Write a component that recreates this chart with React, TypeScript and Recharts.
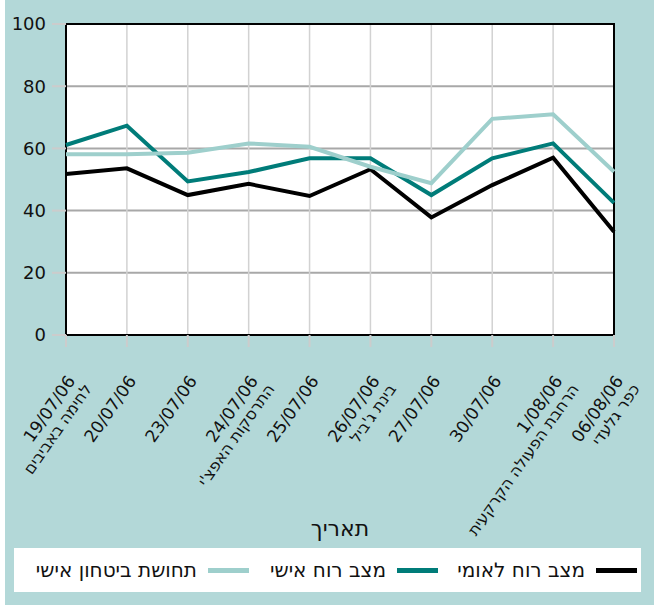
import React from "react";
import {
  CartesianGrid,
  Line,
  LineChart,
  ReferenceArea,
  XAxis,
  YAxis,
} from "recharts";

const dates = [
  "19/07/06",
  "20/07/06",
  "23/07/06",
  "24/07/06",
  "25/07/06",
  "26/07/06",
  "27/07/06",
  "30/07/06",
  "1/08/06",
  "06/08/06",
];

const events = [
  "לחימה באביבים",
  "",
  "",
  "התרסקות האפצ'י",
  "",
  "בינת ג'ביל",
  "",
  "",
  "הרחבת הפעולה הקרקעית",
  "כפר גלעדי",
];

const nationalMood = [51.8, 53.6, 45, 48.6, 44.7, 53.3, 37.8, 48.2, 57, 33.2];
const personalMood = [61.1, 67.3, 49.4, 52.4, 56.8, 56.8, 45, 56.8, 61.6, 42.5];
const personalSecurity = [58.1, 58.1, 58.6, 61.6, 60.5, 54.1, 48.8, 69.5, 71, 52.5];

const yTicks = [0, 20, 40, 60, 80, 100];

// legend item right offsets inside the legend box
const legendRight = [4, 203, 392];

const series = [
  { key: "national", name: "מצב רוח לאומי", color: "#000000" },
  { key: "personal", name: "מצב רוח אישי", color: "#007c79" },
  { key: "security", name: "תחושת ביטחון אישי", color: "#9ecfcc" },
];

const data = dates.map((date, i) => ({
  date,
  event: events[i],
  national: nationalMood[i],
  personal: personalMood[i],
  security: personalSecurity[i],
}));

const FONT = "'DejaVu Sans', sans-serif";

function DateTick(props: any) {
  const { x, y, payload } = props;
  const sub = events[payload.index];
  return (
    <g transform={`translate(${x + 10},${y + 32})`}>
      <text
        transform="rotate(-55)"
        textAnchor="end"
        fill="#111"
        fontSize={17}
        fontFamily={FONT}
      >
        <tspan x={0} dy={0}>
          {payload.value}
        </tspan>
        {sub ? (
          <tspan x={3} dy={18} fontSize={16}>
            {sub}
          </tspan>
        ) : null}
      </text>
    </g>
  );
}

export default function App() {
  return (
    <div
      style={{
        position: "absolute",
        left: 0,
        top: 0,
        width: 654,
        height: 605,
        background: "#ffffff",
      }}
    >
      <div
        style={{
          position: "absolute",
          left: 5,
          top: 0,
          width: 649,
          height: 605,
          background: "#b3d8d8",
        }}
      >
        <LineChart
          width={649}
          height={605}
          data={data}
          margin={{ top: 24, right: 40, left: 0, bottom: 65 }}
        >
          <CartesianGrid fill="#ffffff" vertical={false} stroke="#a8a8a8" strokeWidth={2} />
          <CartesianGrid horizontal={false} stroke="#d2d2d2" strokeWidth={1.5} />
          <XAxis
            dataKey="date"
            interval={0}
            height={205}
            tickSize={12}
            axisLine={false}
            tickLine={{ stroke: "#cccccc", strokeWidth: 2 }}
            tick={<DateTick />}
            label={{
              value: "תאריך",
              position: "insideBottom",
              offset: 4,
              fill: "#111",
              fontSize: 22,
              fontFamily: FONT,
            }}
          />
          <YAxis
            width={61}
            domain={[0, 100]}
            ticks={yTicks}
            interval={0}
            tickSize={14}
            tickMargin={6}
            axisLine={false}
            tickLine={{ stroke: "#cccccc", strokeWidth: 2 }}
            tick={{ fill: "#111", fontSize: 18, fontFamily: FONT }}
          />
          <ReferenceArea
            x1={dates[0]}
            x2={dates[dates.length - 1]}
            y1={0}
            y2={100}
            fill="none"
            fillOpacity={0}
            stroke="#000"
            strokeWidth={2}
            ifOverflow="visible"
          />
          {series.map((s) => (
            <Line
              key={s.key}
              type="linear"
              dataKey={s.key}
              name={s.name}
              stroke={s.color}
              strokeWidth={4}
              dot={false}
              activeDot={false}
              isAnimationActive={false}
            />
          ))}
        </LineChart>
        <div
          style={{
            position: "absolute",
            left: 9,
            top: 548,
            width: 627,
            height: 44,
            background: "#ffffff",
            fontFamily: FONT,
            fontSize: 20,
            color: "#111",
          }}
        >
          {series.map((s, i) => (
            <div
              key={s.key}
              style={{
                position: "absolute",
                right: legendRight[i],
                top: 0,
                height: 44,
                direction: "rtl",
                display: "flex",
                alignItems: "center",
                whiteSpace: "nowrap",
              }}
            >
              <span
                style={{
                  display: "inline-block",
                  width: 41,
                  height: 5,
                  background: s.color,
                  marginLeft: 11,
                  flexShrink: 0,
                }}
              />
              <span>{s.name}</span>
            </div>
          ))}
        </div>
      </div>
    </div>
  );
}
